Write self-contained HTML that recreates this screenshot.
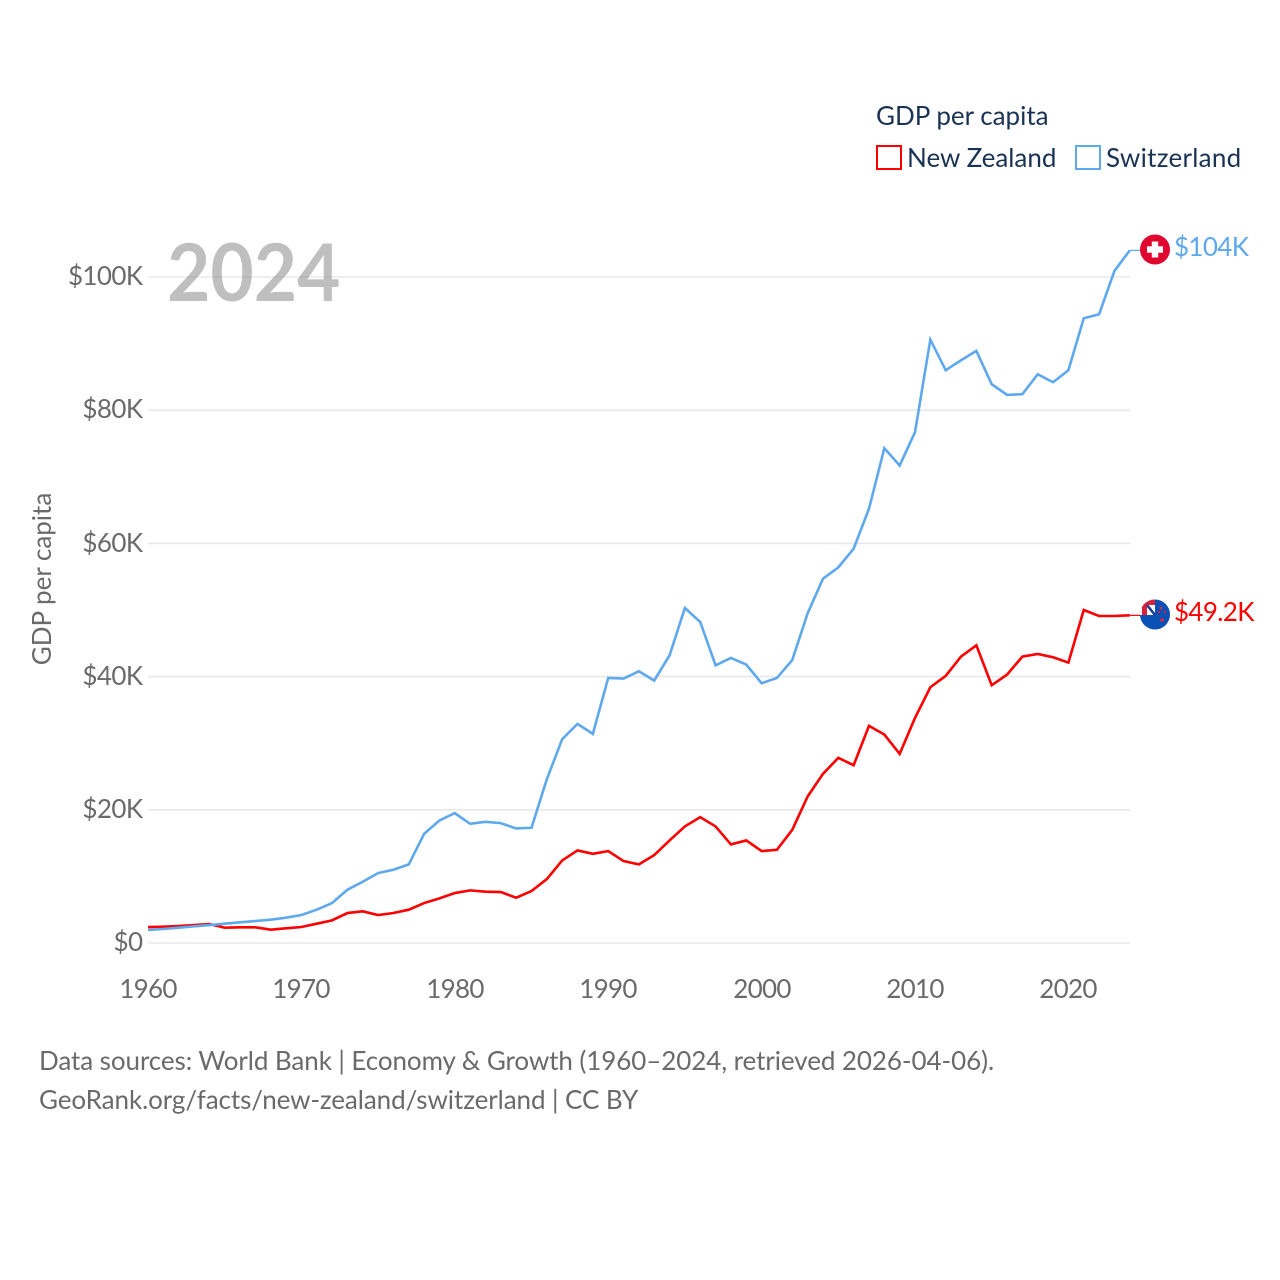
<!DOCTYPE html>
<html><head><meta charset="utf-8"><title>GDP per capita</title>
<style>
html,body{margin:0;padding:0;background:#fff;width:1280px;height:1280px;overflow:hidden}
svg{display:block;position:absolute;left:0;top:0}
#labels{position:absolute;left:0;top:0;width:1280px;height:1280px}
.t{position:absolute;font-family:"Lato","Carlito","Liberation Sans",sans-serif;font-size:26px;line-height:30px;height:30px;white-space:nowrap;color:#6a6a6a}
.n{color:#1a3355}
</style></head>
<body>
<svg id="chart" xmlns="http://www.w3.org/2000/svg" width="1280" height="1280" viewBox="0 0 1280 1280">
<defs>
<clipPath id="ch-clip"><circle cx="1155" cy="249.5" r="15"/></clipPath>
<clipPath id="nz-clip"><circle cx="1155" cy="614.5" r="15"/></clipPath>
</defs>
<rect width="1280" height="1280" fill="#fff"/>
<g id="grid"></g>
<g id="series"></g>
<g id="ends"></g>
<g clip-path="url(#ch-clip)">
<rect x="1140" y="234" width="30" height="31" fill="#e0062f"/>
<rect x="1151.8" y="241.5" width="6.4" height="16" fill="#fff"/>
<rect x="1147" y="246.3" width="16" height="6.4" fill="#fff"/>
</g>
<g clip-path="url(#nz-clip)">
<rect x="1139" y="599" width="32" height="32" fill="#0b50b4"/>
<rect x="1139" y="599" width="16" height="16" fill="#fff"/>
<rect x="1142" y="599" width="13" height="6" fill="#d8213b"/>
<rect x="1142" y="599" width="5" height="16" fill="#d8213b"/>
<path d="M1147 605L1155 615" stroke="#1a3f90" stroke-width="2.6"/>
<circle cx="1161" cy="608" r="1.4" fill="#e0243c"/>
<circle cx="1159" cy="612" r="1.2" fill="#e0243c"/>
<circle cx="1165" cy="612" r="1.2" fill="#e0243c"/>
<circle cx="1162" cy="620" r="1.8" fill="#e0243c"/>
</g>
<rect x="877" y="146" width="24" height="23" fill="#fff" stroke="#ff0000" stroke-width="2"/>
<rect x="1076" y="146" width="24" height="23" fill="#fff" stroke="#5ea8ee" stroke-width="2"/>
</svg>
<div id="labels">
<div class="t" style="left:-109px;top:564px;width:300px;text-align:center;transform:rotate(-90deg)">GDP per capita</div>
<div class="t" style="left:167px;top:223px;font-size:80px;line-height:96px;height:96px;font-weight:700;color:rgba(138,138,138,0.55);transform:scaleX(0.935);transform-origin:0 50%">2024</div>
<div class="t n" style="left:876px;top:100px">GDP per capita</div>
<div class="t n" style="left:907px;top:142px">New Zealand</div>
<div class="t n" style="left:1106px;top:142px;letter-spacing:0.27px">Switzerland</div>
<div class="t" style="left:39px;top:1045px;letter-spacing:-0.08px">Data sources: World Bank | Economy &amp; Growth (1960–2024, retrieved 2026-04-06).</div>
<div class="t" style="left:39px;top:1084px;letter-spacing:-0.08px">GeoRank.org/facts/new-zealand/switzerland | CC BY</div>
</div>
<script>
const startYear = 1960;
const xTickYears = [1960, 1970, 1980, 1990, 2000, 2010, 2020];
const yTickValues = [0, 20, 40, 60, 80, 100];
const yTickLabels = ['$0', '$20K', '$40K', '$60K', '$80K', '$100K'];
const switzerland = [1.95,2.1,2.3,2.5,2.7,2.9,3.1,3.3,3.5,3.8,4.2,5.0,6.0,8.0,9.2,10.5,11.0,11.8,16.4,18.4,19.5,17.9,18.2,18.0,17.2,17.3,24.6,30.6,32.9,31.4,39.8,39.7,40.8,39.4,43.2,50.3,48.2,41.7,42.8,41.8,39.0,39.8,42.5,49.5,54.7,56.4,59.2,65.2,74.3,71.7,76.7,90.6,86.0,87.5,88.9,83.9,82.3,82.4,85.4,84.2,86.0,93.8,94.4,100.9,104.0];
const newZealand = [2.4,2.45,2.55,2.7,2.85,2.3,2.35,2.35,2.0,2.2,2.4,2.9,3.4,4.5,4.75,4.2,4.5,5.0,6.0,6.7,7.5,7.9,7.7,7.65,6.8,7.8,9.6,12.4,13.9,13.4,13.8,12.3,11.8,13.2,15.4,17.5,18.9,17.5,14.8,15.4,13.8,14.0,17.0,22.0,25.4,27.8,26.7,32.6,31.3,28.4,33.8,38.4,40.1,43.0,44.7,38.7,40.3,43.0,43.4,42.9,42.1,50.0,49.1,49.1,49.2];
const seriesNames = ['new-zealand', 'switzerland'];
const endLabels = ['$49.2K', '$104K'];

const NS = 'http://www.w3.org/2000/svg';
function xScale(year) { return 148 + (year - 1960) * 15.34; }
function yScale(v) { return 943 - v * 6.66; }
function make(tag, attrs, parent) {
  const el = document.createElementNS(NS, tag);
  for (const k in attrs) el.setAttribute(k, attrs[k]);
  parent.appendChild(el);
  return el;
}
function label(txt, css, color) {
  const d = document.createElement('div');
  d.className = 't';
  d.textContent = txt;
  d.style.cssText = css;
  if (color) d.style.color = color;
  document.getElementById('labels').appendChild(d);
  return d;
}
const grid = document.getElementById('grid');
const seriesG = document.getElementById('series');
const ends = document.getElementById('ends');

yTickValues.forEach(function (v, i) {
  const line = make('line', {x1: 148, x2: 1130, y1: yScale(v), y2: yScale(v), stroke: '#e8e8e8', 'stroke-width': 1.6}, grid);
  
  
  const t = label(yTickLabels[i], 'left:0;width:142.5px;text-align:right;letter-spacing:-0.6px;top:' + Math.round(yScale(v) - 16.9) + 'px');
  
  
});
xTickYears.forEach(function (y) {
  const t = label(String(y), 'width:100px;text-align:center;letter-spacing:-0.7px;top:973px;left:' + Math.round(xScale(y) - 50) + 'px');
  
  
});
function pathFor(values) {
  return values.map(function (v, i) {
    return (i ? 'L' : 'M') + xScale(startYear + i).toFixed(2) + ' ' + yScale(v).toFixed(2);
  }).join('');
}
function drawSeries(values, color, idx) {
  const p = make('path', {d: pathFor(values), fill: 'none', stroke: color, 'stroke-width': 2.6, 'stroke-linejoin': 'miter'}, seriesG);
  
  
  const last = values[values.length - 1];
  const lastX = xScale(startYear + values.length - 1);
  const lead = make('line', {x1: lastX, x2: 1141, y1: yScale(last), y2: yScale(last), stroke: color, 'stroke-width': 1.2}, ends);
  
  
  const lbl = label(endLabels[idx], 'letter-spacing:-0.65px;left:1174px;top:' + Math.round(yScale(last) - 19) + 'px', color);
  
  
}
drawSeries(newZealand, '#ff0000', 0);
drawSeries(switzerland, '#5ea8ee', 1);
</script>
</body></html>
